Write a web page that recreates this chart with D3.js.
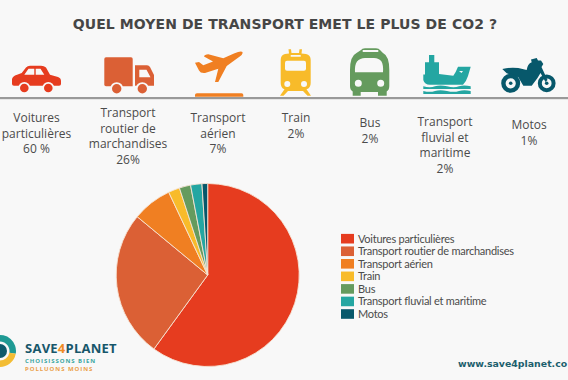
<!DOCTYPE html>
<html lang="fr"><head><meta charset="utf-8">
<script src="https://cdn.jsdelivr.net/npm/d3@7/dist/d3.min.js"></script>
<style>html,body{margin:0;padding:0;background:#f8f8f8;overflow:hidden}svg{display:block}</style>
</head><body><svg id="c" width="568" height="380"></svg>
<script>
const categories=["Voitures particulières","Transport routier de marchandises","Transport aérien","Train","Bus","Transport fluvial et maritime","Motos"];
const shares=[60,26,7,2,2,2,1];
const colors=["#e63c1f","#db6035","#f07f22","#f8bb2a","#659b5e","#24a6a2","#07586b"];
const headerLines=[["Voitures","particulières","60 %"],["Transport","routier de","marchandises","26%"],["Transport","aérien","7%"],["Train","2%"],["Bus","2%"],["Transport","fluvial et","maritime","2%"],["Motos","1%"]];
const headerX=[36.5,128,218,296,370,445,529];
const headerBaseline=[122,117,122,122,127,126,129];
const titleText="QUEL MOYEN DE TRANSPORT EMET LE PLUS DE CO2 ?";
const siteText="www.save4planet.co";

const svg=d3.select("#c");
const ink="#4b4b4b",bg="#f8f8f8";
svg.append("rect").attr("width",568).attr("height",380).attr("fill",bg);
const color=d3.scaleOrdinal(categories,colors);

svg.append("text").attr("x",285).attr("y",28.5).attr("text-anchor","middle")
 .attr("font-family","DejaVu Sans").attr("font-weight",700).attr("font-size",14).attr("letter-spacing",.08)
 .attr("fill","#464646").text(titleText);

svg.append("rect").attr("x",0).attr("y",97).attr("width",568).attr("height",2.2).attr("fill","#999");

// icons
const icons=svg.append("g");
function P(d,f,eo){const p=icons.append("path").attr("d",d).attr("fill",f);if(eo)p.attr("fill-rule","evenodd");return p;}
function C(x,y,r,f){icons.append("circle").attr("cx",x).attr("cy",y).attr("r",r).attr("fill",f);}
// car
P("M12 79Q12.500 76.500 15 75.500L21.700 73L26 67.500Q27.500 65.700 30 65.700H41Q44 65.700 46 67.500L50 74.700L58 77Q61 78 61 81V84Q61 85.700 59 85.700H14Q12 85.700 12 84ZM24.300 74.700H34.300V68.700H28.500ZM35.700 68.700V74.700H44.300L40.500 68.700Z",colors[0],true);
[24.300,48.300].forEach(x=>{C(x,88,6,bg);C(x,88,4.300,colors[0]);});
// truck
P("M104.300 59Q104.300 57.300 106 57.300H131Q132.700 57.300 132.700 59V86.300H106Q104.300 86.300 104.300 84.500Z",colors[1]);
P("M135 65.300H147Q149 65.300 150 67L154 75V85.700H135ZM139.300 69.700V77.300H150.500L146.500 69.700Z",colors[1],true);
[116.700,142.300].forEach(x=>{C(x,88.700,6.500,bg);C(x,88.700,4.700,colors[1]);});
// plane
P("M195 62.700L199 62L203.300 65.300L213 61.500L204 56.500Q204.500 54.500 208.300 54.300L223.300 58.300L234 53.500Q241 50.500 242.500 52Q243.500 54.500 237 58.500L226.700 66L218.300 82H215L218.300 68.700L205 73Q200.500 73.500 199 70.500Z",colors[2]);
P("M195 95Q195 93.300 197 93.300H241.500Q243.300 93.300 243.300 95V96.700H195Z",colors[2]);
// train
P("M280.700 60Q280.700 55 285 54L289 53.500L288.500 49.300H291L291.500 53H299L299.500 49.300H302L301.500 53.500L306 54Q310.700 55 310.700 60V83Q310.700 88 306.500 89.300L311 95.700H307.500L303 91H288L283.500 95.700H280L284.500 89.300Q280.700 88 280.700 83ZM285 63Q285 60.700 287 60.700H304Q306 60.700 306 63V68.700Q306 70.700 304 70.700H287Q285 70.700 285 68.700ZM287.300 81A3 3 0 1 0 287.300 87A3 3 0 1 0 287.300 81ZM304 81A3 3 0 1 0 304 87A3 3 0 1 0 304 81ZM290.700 55H300.700V56.700H290.700Z",colors[3],true);
// bus
P("M350 70Q350 56 356.500 53L361 50Q362 48.300 365 48.300H376Q379 48.300 380 50L383 53Q389.300 56 389.300 70V86Q389.300 90 386.700 91.500V95.700H378V92H360.700V95.700H352.700V91.500Q350 90 350 86ZM355 72.300Q354.500 65 357 61.500Q360 58 365 58H374Q379 58 381.500 61.500Q383.500 65 383 72.300ZM358.300 79.800A3.500 3.500 0 1 0 358.300 86.800A3.500 3.500 0 1 0 358.300 79.800ZM380.700 79.800A3.500 3.500 0 1 0 380.700 86.800A3.500 3.500 0 1 0 380.700 79.800ZM362.700 50H378.300V52H362.700Z",colors[4],true);
// ship
P("M423.300 74.500H425V62.300H429V55H434.300V62.300H439V74L453.300 75.700Q456 72 458 66.700H470.700L468 76Q466.500 81 463 84.700H430Q424.500 84.700 423.300 80Z",colors[5]);
P("M423.300 86.300Q430 88 435 86.300T447 86.300T459 86.300T470.700 86.300V89H423.300ZM423.300 91Q430 92.700 435 91T447 91T459 91T470.700 91V94H423.300Z",colors[5]);
P("M459 71H463L461.500 73Z",bg);
// moto
P("M502.300 69Q510 67 518.300 68L526.700 70Q527.500 64 531.700 62.300L531 59.500L536.700 58L538 60.500L541 60.500L543.300 64L541.500 67L547.500 80L545.500 82L540.500 73L537.500 78L531.700 85.700H523.300L518.300 77.300L506.700 73.300Z",colors[6]);
[[510.700,83.300,7.300,4.400],[546.700,83.300,6.900,4]].forEach(([x,y,r,w])=>{icons.append("circle").attr("cx",x).attr("cy",y).attr("r",r).attr("fill","none").attr("stroke",colors[6]).attr("stroke-width",w);C(x,y,1.800,colors[6]);});

// header labels
const hdr=svg.append("g").attr("font-family","Open Sans").attr("font-weight",500).attr("font-size",12).attr("fill",ink).attr("text-anchor","middle");
headerLines.forEach((lines,i)=>{
  const t=hdr.append("text");
  lines.forEach((l,j)=>t.append("tspan").attr("x",headerX[i]).attr("y",headerBaseline[i]+j*15.6).text(l));
});

// pie
const pie=d3.pie().sort(null).value(d=>d.v);
const arc=d3.arc().innerRadius(0).outerRadius(91.5);
svg.append("g").attr("transform","translate(207.7,275)")
 .selectAll("path").data(pie(categories.map((c,i)=>({c,v:shares[i]})))).join("path")
 .attr("d",arc).attr("fill",d=>color(d.data.c)).attr("stroke","#f6e3d4").attr("stroke-width",.9);

// legend
const ly=d3.scalePoint().domain(categories).range([238.7,314]);
const lg=svg.append("g").selectAll("g").data(categories).join("g").attr("transform",d=>`translate(0,${ly(d)})`);
lg.append("rect").attr("x",341).attr("y",-4.8).attr("width",13).attr("height",9.6).attr("fill",d=>color(d));
lg.append("text").attr("x",358).attr("y",3.9).attr("font-family","Lato").attr("font-size",11).attr("letter-spacing",-.25).attr("fill",ink).text(d=>d);

// logo
const logo=svg.append("g");
const ring=d3.arc().innerRadius(9.5).outerRadius(16);
logo.append("path").attr("transform","translate(0,351)").attr("d",ring({startAngle:-.3,endAngle:1.75})).attr("fill","#1f9a94");
logo.append("path").attr("transform","translate(0,351)").attr("d",ring({startAngle:1.75,endAngle:3.2})).attr("fill","#f3bd34");
logo.append("circle").attr("cx",0).attr("cy",351).attr("r",7).attr("fill","#0d5a6b");
const lt=logo.append("text").attr("x",25).attr("y",352.5).attr("font-family","Open Sans").attr("font-weight",700).attr("font-size",13).attr("letter-spacing",.25).attr("fill","#17566a");
lt.append("tspan").text("SAVE");lt.append("tspan").attr("fill","#f08a24").text("4");lt.append("tspan").text("PLANET");
logo.append("text").attr("x",25).attr("y",362.5).attr("font-family","Open Sans").attr("font-weight",700).attr("font-size",6).attr("letter-spacing",.95).attr("fill","#3aa6a0").text("CHOISISSONS BIEN");
logo.append("text").attr("x",25).attr("y",370.5).attr("font-family","Open Sans").attr("font-weight",700).attr("font-size",6).attr("letter-spacing",.95).attr("fill","#eba04a").text("POLLUONS MOINS");

svg.append("text").attr("x",458).attr("y",367).attr("font-family","DejaVu Sans").attr("font-weight",700).attr("font-size",9.4).attr("fill","#1d5f6d").text(siteText);
</script></body></html>
